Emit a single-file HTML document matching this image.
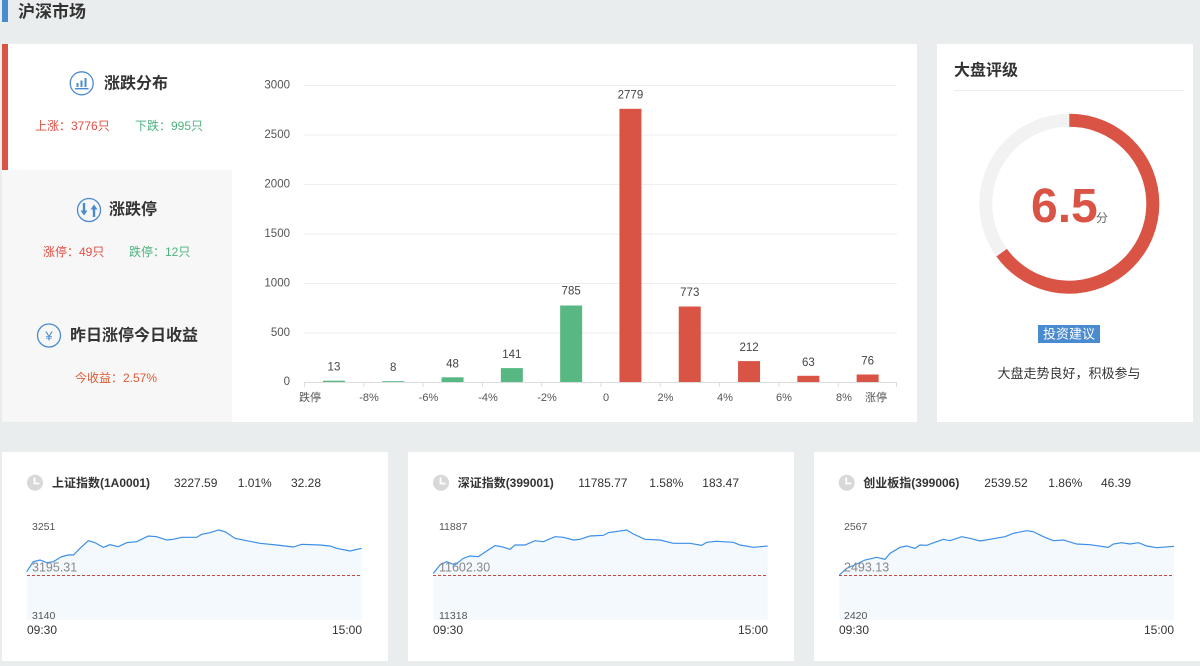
<!DOCTYPE html>
<html><head><meta charset="utf-8">
<style>
html,body{margin:0;padding:0;background:#eaedee;}
body{width:1200px;height:661px;overflow:hidden;font-family:"Liberation Sans","Noto Sans CJK SC",sans-serif;}
svg text{font-family:"Liberation Sans","Noto Sans CJK SC",sans-serif;}
</style></head>
<body>
<svg width="1200" height="661" viewBox="0 0 1200 661" xmlns="http://www.w3.org/2000/svg">
<rect x="0" y="0" width="1200" height="661" fill="#eaedee"/>
<!-- header -->
<rect x="2" y="0" width="6" height="22" fill="#4a8bd0"/>
<text x="18" y="12" font-size="17" font-weight="bold" fill="#333" dominant-baseline="central">沪深市场</text>

<!-- main panel -->
<rect x="2" y="44" width="915" height="378" fill="#fff"/>
<rect x="2" y="170" width="230" height="252" fill="#f7f7f7"/>
<rect x="2" y="44" width="6" height="126" fill="#d95444"/>

<!-- section 1 -->
<circle cx="81.7" cy="83.3" r="11.5" fill="none" stroke="#4a8bd0" stroke-width="1.3"/>
<rect x="76.5" y="83" width="2" height="4" fill="#4a8bd0"/>
<rect x="80.5" y="80.5" width="2" height="6.5" fill="#4a8bd0"/>
<rect x="84.5" y="78" width="2" height="9" fill="#4a8bd0"/>
<rect x="75" y="88" width="13.5" height="1.4" fill="#4a8bd0"/>
<text x="104" y="84" font-size="16" font-weight="bold" fill="#333" dominant-baseline="central">涨跌分布</text>
<text x="35" y="126" font-size="12" fill="#e24c42" dominant-baseline="central">上涨：3776只</text>
<text x="135" y="126" font-size="12" fill="#4db27f" dominant-baseline="central">下跌：995只</text>

<!-- section 2 -->
<circle cx="89" cy="210" r="11.5" fill="none" stroke="#4a8bd0" stroke-width="1.3"/>
<rect x="82.8" y="203" width="2.4" height="8" fill="#4a8bd0"/>
<polygon points="80.5,210.5 87.5,210.5 84,215.5" fill="#4a8bd0"/>
<rect x="92.8" y="209" width="2.4" height="8" fill="#4a8bd0"/>
<polygon points="90.5,209.5 97.5,209.5 94,204.5" fill="#4a8bd0"/>
<text x="109" y="210" font-size="16" font-weight="bold" fill="#333" dominant-baseline="central">涨跌停</text>
<text x="43" y="252" font-size="12" fill="#e24c42" dominant-baseline="central">涨停：49只</text>
<text x="129" y="252" font-size="12" fill="#4db27f" dominant-baseline="central">跌停：12只</text>

<!-- section 3 -->
<circle cx="49" cy="335.5" r="11.5" fill="none" stroke="#4a8bd0" stroke-width="1.3"/>
<text x="49" y="336" font-size="13" fill="#4a8bd0" text-anchor="middle" dominant-baseline="central">¥</text>
<text x="70" y="336" font-size="16" font-weight="bold" fill="#333" dominant-baseline="central">昨日涨停今日收益</text>
<text x="75" y="378" font-size="12" fill="#e05a36" dominant-baseline="central">今收益：2.57%</text>

<!-- bar chart grid -->
<g stroke="#eeeeee" stroke-width="1">
<line x1="304" y1="85.5" x2="897" y2="85.5"/>
<line x1="304" y1="135" x2="897" y2="135"/>
<line x1="304" y1="184.5" x2="897" y2="184.5"/>
<line x1="304" y1="234" x2="897" y2="234"/>
<line x1="304" y1="283.5" x2="897" y2="283.5"/>
<line x1="304" y1="333" x2="897" y2="333"/>
</g>
<g font-size="11.5" fill="#555" text-anchor="end" dominant-baseline="central">
<text x="290" y="85.5">3000</text>
<text x="290" y="135">2500</text>
<text x="290" y="184.5">2000</text>
<text x="290" y="234">1500</text>
<text x="290" y="283.5">1000</text>
<text x="290" y="333">500</text>
<text x="290" y="382">0</text>
</g>
<line x1="304" y1="382.5" x2="897" y2="382.5" stroke="#dddddd" stroke-width="1"/>
<g stroke="#dddddd" stroke-width="1">
<line x1="304.5" y1="382" x2="304.5" y2="387"/>
<line x1="363.8" y1="382" x2="363.8" y2="387"/>
<line x1="423.1" y1="382" x2="423.1" y2="387"/>
<line x1="482.4" y1="382" x2="482.4" y2="387"/>
<line x1="541.7" y1="382" x2="541.7" y2="387"/>
<line x1="601" y1="382" x2="601" y2="387"/>
<line x1="660.3" y1="382" x2="660.3" y2="387"/>
<line x1="719.6" y1="382" x2="719.6" y2="387"/>
<line x1="778.9" y1="382" x2="778.9" y2="387"/>
<line x1="838.2" y1="382" x2="838.2" y2="387"/>
<line x1="896.5" y1="382" x2="896.5" y2="387"/>
</g>
<g font-size="11" fill="#555" text-anchor="middle" dominant-baseline="central">
<text x="310" y="398">跌停</text>
<text x="369" y="398">-8%</text>
<text x="428.5" y="398">-6%</text>
<text x="488" y="398">-4%</text>
<text x="547" y="398">-2%</text>
<text x="606" y="398">0</text>
<text x="665.5" y="398">2%</text>
<text x="725" y="398">4%</text>
<text x="784" y="398">6%</text>
<text x="844" y="398">8%</text>
<text x="876" y="398">涨停</text>
</g>
<!-- bars -->
<g fill="#58b883">
<rect x="322.95" y="380.7" width="22" height="1.3"/>
<rect x="382.25" y="381.2" width="22" height="0.8"/>
<rect x="441.55" y="377.3" width="22" height="4.7"/>
<rect x="500.85" y="368.1" width="22" height="13.9"/>
<rect x="560.15" y="305.5" width="22" height="76.5"/>
</g>
<g fill="#d95444">
<rect x="619.45" y="108.8" width="22" height="273.2"/>
<rect x="678.75" y="306.5" width="22" height="75.5"/>
<rect x="738.05" y="361.1" width="22" height="20.9"/>
<rect x="797.35" y="375.8" width="22" height="6.2"/>
<rect x="856.65" y="374.5" width="22" height="7.5"/>
</g>
<g font-size="11.5" fill="#444" text-anchor="middle" dominant-baseline="central">
<text x="333.95" y="367.7">13</text>
<text x="393.25" y="368.2">8</text>
<text x="452.55" y="364.3">48</text>
<text x="511.85" y="355.1">141</text>
<text x="571.15" y="291.7">785</text>
<text x="630.45" y="95.3">2779</text>
<text x="689.75" y="292.9">773</text>
<text x="749.05" y="348.1">212</text>
<text x="808.35" y="362.8">63</text>
<text x="867.65" y="361.5">76</text>
</g>

<!-- right panel -->
<rect x="937" y="44" width="256" height="378" fill="#fff"/>
<text x="954" y="71" font-size="16" font-weight="bold" fill="#333" dominant-baseline="central">大盘评级</text>
<line x1="954" y1="90.5" x2="1185" y2="90.5" stroke="#eeeeee" stroke-width="1"/>
<circle cx="1069.3" cy="203.7" r="83.5" fill="none" stroke="#f2f2f2" stroke-width="13"/>
<circle cx="1069.3" cy="203.7" r="83.5" fill="none" stroke="#d95444" stroke-width="13" stroke-dasharray="341 600" transform="rotate(-90 1069.3 203.7)"/>
<text x="1031" y="222" font-size="48" font-weight="bold" fill="#d95444">6.5</text>
<text x="1096" y="222" font-size="12" fill="#666">分</text>
<rect x="1038" y="325" width="62" height="18" fill="#4a8bd0"/>
<text x="1069" y="334" font-size="13" fill="#fff" text-anchor="middle" dominant-baseline="central">投资建议</text>
<text x="1069" y="373.5" font-size="13" fill="#333" text-anchor="middle" dominant-baseline="central">大盘走势良好，积极参与</text>

<!-- bottom panels -->
<rect x="2" y="452" width="386" height="209" fill="#fff"/>
<rect x="408" y="452" width="386" height="209" fill="#fff"/>
<rect x="814" y="452" width="386" height="209" fill="#fff"/>

<!-- panel 1 -->
<circle cx="35" cy="482.7" r="8" fill="#d8d8d8"/>
<path d="M34.5 477.5 V483.5 H39.5" fill="none" stroke="#fff" stroke-width="1.8"/>
<text x="52" y="483" font-size="12" font-weight="bold" fill="#333" dominant-baseline="central">上证指数(1A0001)</text>
<text x="174" y="483" font-size="12" fill="#333" dominant-baseline="central">3227.59</text>
<text x="237.7" y="483" font-size="12" fill="#333" dominant-baseline="central">1.01%</text>
<text x="291" y="483" font-size="12" fill="#333" dominant-baseline="central">32.28</text>
<g transform="translate(0,420) scale(0.33333)">
<polygon fill="#f4f9fe" points="80,455 100,425 120,420 140,428 160,425 185,410 205,405 220,405 240,385 265,362 285,368 310,382 330,374 355,380 380,368 410,365 445,348 470,350 500,360 520,358 545,352 590,352 605,343 630,338 655,330 675,335 705,355 740,362 780,370 830,375 880,381 905,373 960,375 990,378 1010,385 1050,393 1085,385 1085,600 80,600"/>
<polyline fill="none" stroke="#3a8ee6" stroke-width="3.5" points="80,455 100,425 120,420 140,428 160,425 185,410 205,405 220,405 240,385 265,362 285,368 310,382 330,374 355,380 380,368 410,365 445,348 470,350 500,360 520,358 545,352 590,352 605,343 630,338 655,330 675,335 705,355 740,362 780,370 830,375 880,381 905,373 960,375 990,378 1010,385 1050,393 1085,385"/>
</g>
<line x1="27" y1="575.5" x2="362" y2="575.5" stroke="#c9483d" stroke-width="1" stroke-dasharray="3,2"/>
<text x="32" y="527" font-size="10.5" fill="#555" dominant-baseline="central">3251</text>
<text x="32" y="567.5" font-size="12.5" fill="#888" dominant-baseline="central">3195.31</text>
<text x="32" y="616" font-size="10.5" fill="#555" dominant-baseline="central">3140</text>
<text x="27" y="630" font-size="12" fill="#333" dominant-baseline="central">09:30</text>
<text x="362" y="630" font-size="12" fill="#333" text-anchor="end" dominant-baseline="central">15:00</text>

<!-- panel 2 -->
<circle cx="441" cy="482.7" r="8" fill="#d8d8d8"/>
<path d="M440.5 477.5 V483.5 H445.5" fill="none" stroke="#fff" stroke-width="1.8"/>
<text x="457.7" y="483" font-size="12" font-weight="bold" fill="#333" dominant-baseline="central">深证指数(399001)</text>
<text x="578.3" y="483" font-size="12" fill="#333" dominant-baseline="central">11785.77</text>
<text x="649.3" y="483" font-size="12" fill="#333" dominant-baseline="central">1.58%</text>
<text x="702.3" y="483" font-size="12" fill="#333" dominant-baseline="central">183.47</text>
<g transform="translate(400,420) scale(0.33333)">
<polygon fill="#f4f9fe" points="100,460 120,435 140,425 165,435 190,415 210,408 235,410 260,393 285,377 305,380 330,388 345,375 375,375 405,362 430,365 465,350 490,352 520,360 540,358 570,348 610,346 625,338 680,330 700,342 735,358 780,360 820,370 870,370 905,376 920,367 950,364 1000,367 1020,375 1060,382 1103,378 1103,600 100,600"/>
<polyline fill="none" stroke="#3a8ee6" stroke-width="3.5" points="100,460 120,435 140,425 165,435 190,415 210,408 235,410 260,393 285,377 305,380 330,388 345,375 375,375 405,362 430,365 465,350 490,352 520,360 540,358 570,348 610,346 625,338 680,330 700,342 735,358 780,360 820,370 870,370 905,376 920,367 950,364 1000,367 1020,375 1060,382 1103,378"/>
</g>
<line x1="433" y1="575.5" x2="768" y2="575.5" stroke="#c9483d" stroke-width="1" stroke-dasharray="3,2"/>
<text x="439" y="527" font-size="10.5" fill="#555" dominant-baseline="central">11887</text>
<text x="439" y="567.5" font-size="12.5" fill="#888" dominant-baseline="central">11602.30</text>
<text x="439" y="616" font-size="10.5" fill="#555" dominant-baseline="central">11318</text>
<text x="433" y="630" font-size="12" fill="#333" dominant-baseline="central">09:30</text>
<text x="768" y="630" font-size="12" fill="#333" text-anchor="end" dominant-baseline="central">15:00</text>

<!-- panel 3 -->
<circle cx="846.7" cy="482.7" r="8" fill="#d8d8d8"/>
<path d="M846.2 477.5 V483.5 H851.2" fill="none" stroke="#fff" stroke-width="1.8"/>
<text x="863.3" y="483" font-size="12" font-weight="bold" fill="#333" dominant-baseline="central">创业板指(399006)</text>
<text x="984.3" y="483" font-size="12" fill="#333" dominant-baseline="central">2539.52</text>
<text x="1048.3" y="483" font-size="12" fill="#333" dominant-baseline="central">1.86%</text>
<text x="1101" y="483" font-size="12" fill="#333" dominant-baseline="central">46.39</text>
<g transform="translate(800,420) scale(0.33333)">
<polygon fill="#f4f9fe" points="118,465 140,445 170,432 195,420 230,412 255,418 270,400 300,382 320,378 345,385 360,375 380,376 410,365 430,358 450,362 485,350 510,355 540,363 580,356 615,350 640,340 680,332 700,335 730,350 760,362 790,360 830,372 870,374 925,382 940,372 965,368 990,372 1015,368 1040,378 1070,383 1122,379 1122,600 118,600"/>
<polyline fill="none" stroke="#3a8ee6" stroke-width="3.5" points="118,465 140,445 170,432 195,420 230,412 255,418 270,400 300,382 320,378 345,385 360,375 380,376 410,365 430,358 450,362 485,350 510,355 540,363 580,356 615,350 640,340 680,332 700,335 730,350 760,362 790,360 830,372 870,374 925,382 940,372 965,368 990,372 1015,368 1040,378 1070,383 1122,379"/>
</g>
<line x1="839" y1="575.5" x2="1174" y2="575.5" stroke="#c9483d" stroke-width="1" stroke-dasharray="3,2"/>
<text x="844" y="527" font-size="10.5" fill="#555" dominant-baseline="central">2567</text>
<text x="844" y="567.5" font-size="12.5" fill="#888" dominant-baseline="central">2493.13</text>
<text x="844" y="616" font-size="10.5" fill="#555" dominant-baseline="central">2420</text>
<text x="839" y="630" font-size="12" fill="#333" dominant-baseline="central">09:30</text>
<text x="1174" y="630" font-size="12" fill="#333" text-anchor="end" dominant-baseline="central">15:00</text>
</svg>
</body></html>
